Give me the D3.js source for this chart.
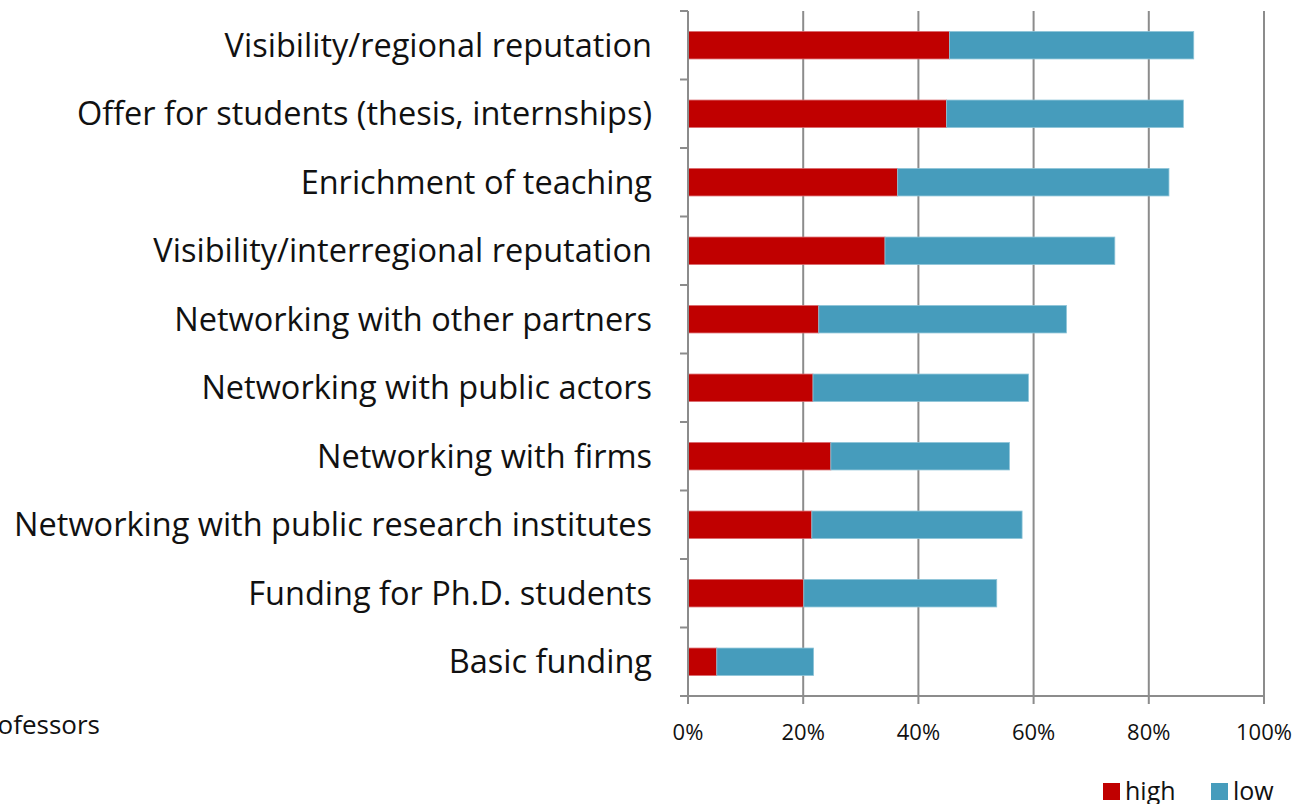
<!DOCTYPE html>
<html>
<head>
<meta charset="utf-8">
<script src="https://d3js.org/d3.v7.min.js"></script>
<style>
  body { margin: 0; background: #fff; }
  text { font-family: "Open Sans", "Noto Sans", sans-serif; fill: #111; }
</style>
</head>
<body>
<script>
var width = 1299;
var height = 804;

// categories, top to bottom
var categories = [
    "Visibility/regional reputation",
    "Offer for students (thesis, internships)",
    "Enrichment of teaching",
    "Visibility/interregional reputation",
    "Networking with other partners",
    "Networking with public actors",
    "Networking with firms",
    "Networking with public research institutes",
    "Funding for Ph.D. students",
    "Basic funding"
];
var high = [45.4, 44.9, 36.4, 34.2, 22.7, 21.7, 24.8, 21.5, 20.1, 5.0];
var low  = [42.4, 41.1, 47.1, 39.9, 43.0, 37.4, 31.0, 36.5, 33.5, 16.8];
var ticks = [0, 20, 40, 60, 80, 100];
var seriesNames = ["high", "low"];
var colors = ["#c00000", "#469cbc"];

var svg = d3.select("body").append("svg")
    .attr("width", width)
    .attr("height", height);

var x = d3.scaleLinear().domain([0, 100]).range([688, 1264]);
var y = d3.scaleBand().domain(categories).range([11, 696]).paddingInner(0.6).paddingOuter(0.3);
var band = d3.scaleBand().domain(categories).range([11, 696]);

// gridlines
svg.append("g").selectAll("line")
    .data(ticks.slice(1))
    .enter().append("line")
    .attr("x1", d => x(d)).attr("x2", d => x(d))
    .attr("y1", 11).attr("y2", 704)
    .attr("stroke", "#8c8c8c").attr("stroke-width", 2);

// stacked data
var rows = categories.map((c, i) => ({ cat: c, vals: [high[i], low[i]] }));

var g = svg.append("g");
rows.forEach(function (r) {
    var start = 0;
    r.vals.forEach(function (v, k) {
        g.append("rect")
            .attr("x", x(start))
            .attr("y", y(r.cat))
            .attr("width", x(start + v) - x(start))
            .attr("height", y.bandwidth())
            .attr("fill", colors[k])
            .attr("stroke", k == 0 ? "#d9676b" : "#8cc4d8")
            .attr("stroke-width", 0.8);
        start += v;
    });
});

// y axis line and ticks
svg.append("line")
    .attr("x1", 688).attr("x2", 688)
    .attr("y1", 11).attr("y2", 696)
    .attr("stroke", "#8c8c8c").attr("stroke-width", 2);
svg.append("g").selectAll("line")
    .data(categories.concat(["end"]))
    .enter().append("line")
    .attr("x1", 680).attr("x2", 688)
    .attr("y1", (d, i) => 11 + i * band.step())
    .attr("y2", (d, i) => 11 + i * band.step())
    .attr("stroke", "#8c8c8c").attr("stroke-width", 2);

// x axis
svg.append("line")
    .attr("x1", 680).attr("x2", 1265)
    .attr("y1", 696).attr("y2", 696)
    .attr("stroke", "#8c8c8c").attr("stroke-width", 2);
svg.append("line")
    .attr("x1", 688).attr("x2", 688)
    .attr("y1", 696).attr("y2", 704)
    .attr("stroke", "#8c8c8c").attr("stroke-width", 2);

svg.append("g").selectAll("text")
    .data(ticks)
    .enter().append("text")
    .attr("x", d => x(d))
    .attr("y", 740)
    .attr("text-anchor", "middle")
    .style("font-size", "22px")
    .text(d => d + "%");

// category labels
svg.append("g").selectAll("text")
    .data(categories)
    .enter().append("text")
    .attr("x", 652)
    .attr("y", d => y(d) + y.bandwidth() / 2)
    .attr("dy", "0.36em")
    .attr("text-anchor", "end")
    .style("font-size", "32.5px")
    .text(d => d);

// clipped title at left
svg.append("text")
    .attr("x", 100).attr("y", 734)
    .attr("text-anchor", "end")
    .style("font-size", "26px")
    .text("Professors");

// legend
var legendX = [1103, 1211];
seriesNames.forEach(function (n, k) {
    svg.append("rect")
        .attr("x", legendX[k]).attr("y", 783)
        .attr("width", 17).attr("height", 17)
        .attr("fill", colors[k]);
    svg.append("text")
        .attr("x", legendX[k] + 22).attr("y", 800)
        .style("font-size", "25px")
        .text(n);
});
</script>
</body>
</html>
